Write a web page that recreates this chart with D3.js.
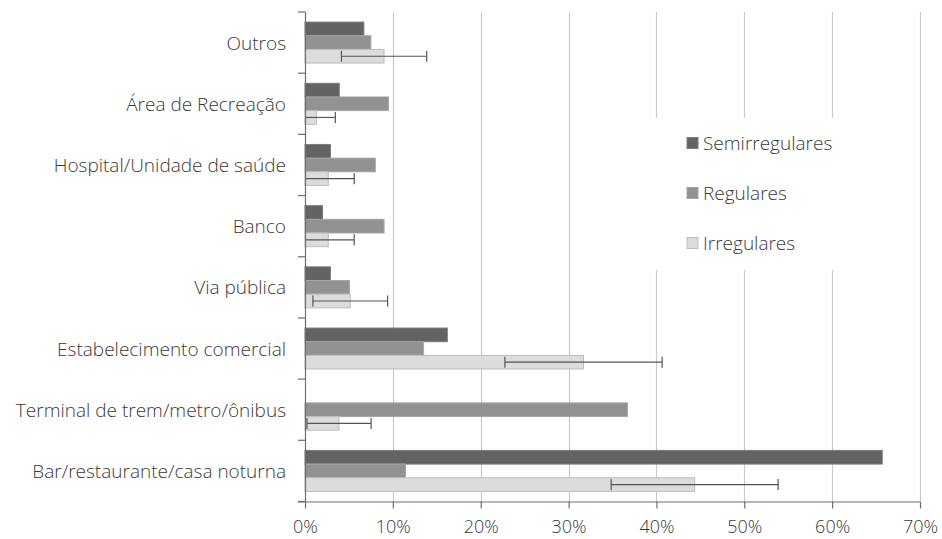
<!DOCTYPE html>
<html>
<head>
<meta charset="utf-8">
<script src="https://cdn.jsdelivr.net/npm/d3@7"></script>
<style>
  html, body { margin: 0; padding: 0; background: #fff; }
  svg text { font-family: "Open Sans", Lato, sans-serif; font-weight: 300; fill: #3a3a3a; }
</style>
</head>
<body>
<svg id="chart" width="942" height="539"></svg>
<script>
const categories = [
  "Outros",
  "Área de Recreação",
  "Hospital/Unidade de saúde",
  "Banco",
  "Via pública",
  "Estabelecimento comercial",
  "Terminal de trem/metro/ônibus",
  "Bar/restaurante/casa noturna"
];
const seriesNames = ["Semirregulares", "Regulares", "Irregulares"];
const semirregulares = [6.7, 3.9, 2.9, 2.0, 2.9, 16.2, 0, 65.7];
const regulares = [7.5, 9.5, 8.0, 9.0, 5.05, 13.5, 36.7, 11.45];
const irregulares = [9.0, 1.3, 2.65, 2.65, 5.15, 31.7, 3.87, 44.35];
const irregularesErro = [4.85, 2.15, 2.95, 2.95, 4.25, 8.95, 3.65, 9.5];
const xTicks = [0, 10, 20, 30, 40, 50, 60, 70];

const seriesValues = [semirregulares, regulares, irregulares];
const fills = ["#636365", "#929295", "#dcdcde"];
const strokes = ["#7c7c7e", "#a6a6a8", "#bdbdbf"];

const svg = d3.select("#chart");
const pLeft = 305, pRight = 920, pTop = 12, pBottom = 501.5;

const x = d3.scaleLinear().domain([0, 70]).range([pLeft, pRight]);
const y = d3.scaleBand().domain(categories).range([pTop, pBottom]).paddingInner(0.33).paddingOuter(0.165);
const ySub = d3.scaleBand().domain(seriesNames).range([0, y.bandwidth()]);
const step = y.step();

// gridlines
svg.append("g").selectAll("line").data(xTicks.slice(1)).join("line")
  .attr("x1", d => Math.round(x(d)) + 0.5).attr("x2", d => Math.round(x(d)) + 0.5)
  .attr("y1", pTop).attr("y2", pBottom)
  .attr("stroke", "#c9c9c9").attr("stroke-width", 1.2);

// legend background (covers gridlines)
svg.append("rect").attr("x", 648).attr("y", 118).attr("width", 262).attr("height", 152).attr("fill", "#fff");

// bars
seriesNames.forEach((s, si) => {
  svg.append("g").selectAll("rect").data(categories).join("rect")
    .attr("x", x(0))
    .attr("y", c => y(c) + ySub(s))
    .attr("width", (c, i) => Math.max(0, x(seriesValues[si][i]) - x(0)))
    .attr("height", ySub.bandwidth())
    .attr("fill", fills[si])
    .attr("stroke", (c, i) => seriesValues[si][i] > 0 ? strokes[si] : "none")
    .attr("stroke-width", 1);
});

// error bars on Irregulares
const eg = svg.append("g").attr("stroke", "#555557").attr("stroke-width", 1.2);
categories.forEach((c, i) => {
  const cy = y(c) + ySub("Irregulares") + ySub.bandwidth() / 2;
  const lo = Math.max(0, irregulares[i] - irregularesErro[i]);
  const hi = irregulares[i] + irregularesErro[i];
  eg.append("line").attr("x1", x(lo)).attr("x2", x(hi)).attr("y1", cy).attr("y2", cy);
  eg.append("line").attr("x1", x(hi)).attr("x2", x(hi)).attr("y1", cy - 5.5).attr("y2", cy + 5.5);
  if (irregulares[i] - irregularesErro[i] > 0) {
    eg.append("line").attr("x1", x(lo)).attr("x2", x(lo)).attr("y1", cy - 5.5).attr("y2", cy + 5.5);
  }
});

// y axis
const yAxisG = svg.append("g");
yAxisG.append("line").attr("x1", pLeft + 0.5).attr("x2", pLeft + 0.5).attr("y1", pTop).attr("y2", pBottom)
  .attr("stroke", "#6e6e6e").attr("stroke-width", 1.2);
d3.range(categories.length + 1).forEach(k => {
  const ty = pTop + k * step;
  yAxisG.append("line").attr("x1", pLeft - 7).attr("x2", pLeft).attr("y1", ty).attr("y2", ty)
    .attr("stroke", "#6e6e6e").attr("stroke-width", 1.2);
});
yAxisG.selectAll("text").data(categories).join("text")
  .attr("x", 286)
  .attr("y", c => y(c) + y.bandwidth() / 2)
  .attr("text-anchor", "end")
  .attr("dominant-baseline", "central")
  .attr("font-size", 19)
  .text(c => c);

// x axis
const xAxis = d3.axisBottom(x).tickValues(xTicks).tickFormat(d => d + "%").tickSize(7).tickSizeOuter(0);
const xg = svg.append("g").attr("transform", `translate(0,${pBottom})`).call(xAxis);
xg.select(".domain").attr("stroke", "#6e6e6e").attr("stroke-width", 1.2).attr("d", `M${pLeft - 7},0.5H${pRight}`);
xg.selectAll(".tick line").attr("stroke", "#6e6e6e").attr("stroke-width", 1.2);
xg.selectAll(".tick text").attr("font-size", 18).attr("y", 31.5).attr("dy", 0)
  .attr("font-family", null).attr("fill", "#3a3a3a");

// legend
const legendY = [143, 193, 243];
const lg = svg.append("g");
seriesNames.forEach((s, si) => {
  lg.append("rect").attr("x", 687).attr("y", legendY[si] - 5.5).attr("width", 11).attr("height", 11)
    .attr("fill", fills[si]).attr("stroke", strokes[si]);
  lg.append("text").attr("x", 703).attr("y", legendY[si]).attr("dominant-baseline", "central")
    .attr("font-size", 19).text(s);
});
</script>
</body>
</html>
